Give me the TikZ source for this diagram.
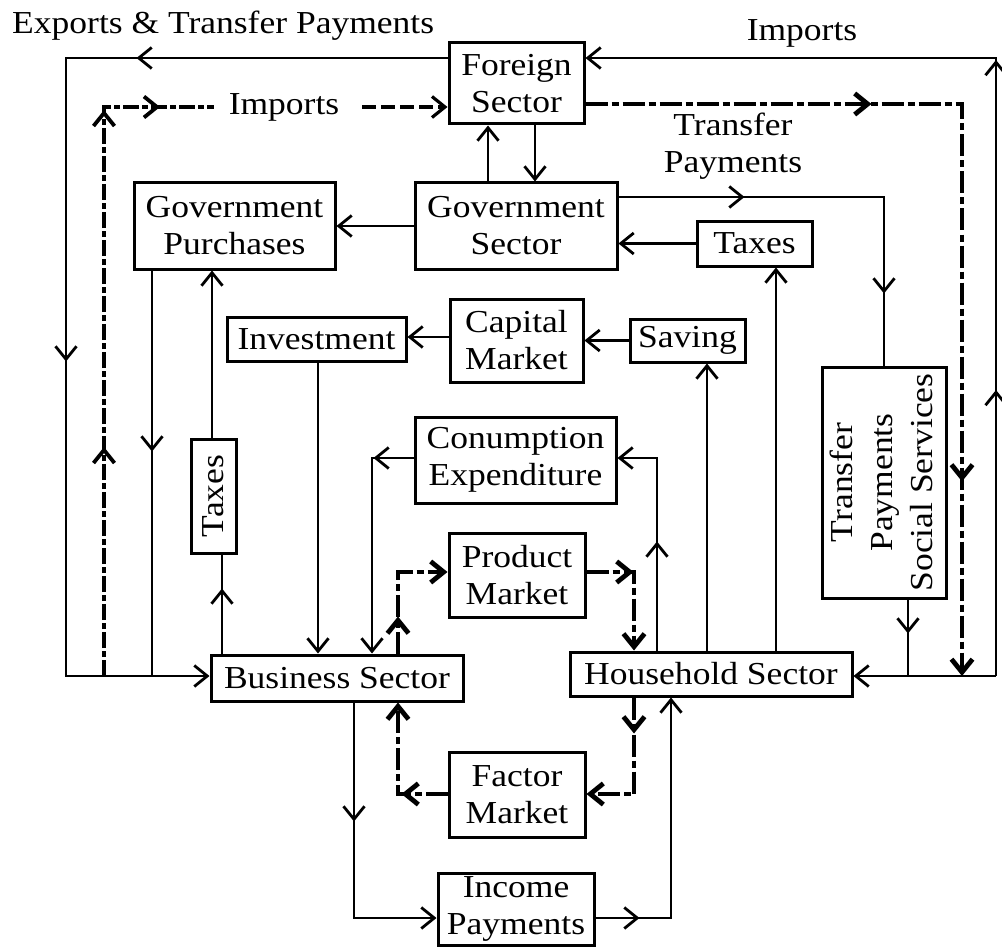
\documentclass[tikz,border=0pt]{standalone}
\usepackage{fontspec}
\usepackage{graphicx}
\setmainfont{Liberation Serif}[FakeStretch=1.11]
\usetikzlibrary{arrows.meta,decorations.markings}
\newcommand\boxfont{\fontsize{32}{37}\selectfont}

\tikzset{
  >={Straight Barb[length=13pt,width=21pt]},
  box/.style={draw, line width=3pt, inner sep=0pt, align=center, font=\boxfont},
  lbl/.style={font=\boxfont, inner sep=0pt, align=center},
  flow/.style={line width=2.8pt},
  money/.style={line width=4.8pt, dash pattern=on 22pt off 4pt on 7pt off 4pt},
  imp/.style={line width=3.8pt, dash pattern=on 16pt off 3pt on 6pt off 3pt},
  impdash/.style={line width=3.2pt, dash pattern=on 14pt off 5pt},
  tipat/.style={postaction={decorate,decoration={markings,mark=at position #1 with {\arrow{>}}}}},
}

\begin{document}
\begin{tikzpicture}[x=1pt,y=-1pt]
\useasboundingbox (0,0) rectangle (1002,947);

% sectors and markets
\node[box, minimum width=135pt, minimum height=81pt] (fs)  at (516.5,83.5) {Foreign\\Sector};
\node[box, minimum width=202pt, minimum height=86pt] (gs)  at (516,226)    {Government\\Sector};
\node[box, minimum width=201pt, minimum height=86pt] (gp)  at (234.5,226)  {Government\\Purchases};
\node[box, minimum width=115pt, minimum height=45pt] (tx1) at (754.5,243.5) {Taxes};
\node[box, minimum width=179pt, minimum height=44pt] (inv) at (316.5,339)  {Investment};
\node[box, minimum width=133pt, minimum height=83pt] (cm)  at (516.5,340.5) {Capital\\Market};
\node[box, minimum width=115pt, minimum height=43pt] (sav) at (687.5,340.5) {Saving};
\node[box, minimum width=201pt, minimum height=86pt] (ce)  at (515.5,460)  {Conumption\\Expenditure};
\node[box, minimum width=136pt, minimum height=84pt] (pm)  at (517,575)    {Product\\Market};
\node[box, minimum width=252pt, minimum height=46pt] (bs)  at (337,678)    {Business Sector};
\node[box, minimum width=282pt, minimum height=44pt] (hs)  at (711,674)    {Household Sector};
\node[box, minimum width=136pt, minimum height=85pt] (fm)  at (517,795)    {Factor\\Market};
\node[box, minimum width=156pt, minimum height=72pt] (ip)  at (516,909)    {Income\\Payments};
\node[box, minimum width=45pt, minimum height=114pt] (tx2) at (213.5,496)  {\rotatebox{90}{Taxes}};
\node[box, minimum width=124pt, minimum height=231pt] (tps) at (884,482.5)
  {\rotatebox{90}{\fontsize{32}{40}\selectfont\begin{tabular}{@{}c@{}}Transfer\\Payments\\Social Services\end{tabular}}};

% free labels
\node[lbl, anchor=west] (exL) at (12,26) {Exports \& Transfer Payments};
\node[lbl] (imR) at (802,33) {Imports};
\node[lbl] (imL) at (284,107) {Imports};
\node[lbl] (tpL) at (733,146) {Transfer\\Payments};

% bend points
\coordinate (exTop) at (66,58);
\coordinate (exBot) at (66,676);
\coordinate (gpBot) at (152,676);
\coordinate (imBot) at (104,676);
\coordinate (imTop) at (104,107);
\coordinate (imEnd) at (214,107);
\coordinate (imRes) at (362,107);
\coordinate (rBot) at (996,676);
\coordinate (rTop) at (996,58);
\coordinate (ddC) at (962,104);
\coordinate (tpC) at (884,197);
\coordinate (tpB) at (908,676);
\coordinate (xTx) at (776,0);
\coordinate (xSv) at (707,0);
\coordinate (yCI) at (0,337);
\coordinate (xIn) at (318,0);
\coordinate (ceC) at (657,458);
\coordinate (cbC) at (372,458);
\coordinate (bpC) at (398,572);
\coordinate (phC) at (634,572);
\coordinate (hfC) at (634,794);
\coordinate (fbC) at (398,794);
\coordinate (biC) at (354,918);
\coordinate (ihC) at (671,918);
\coordinate (xGF) at (488,0);
\coordinate (xFG) at (535,0);
\coordinate (xBT) at (222,0);
\coordinate (xTG) at (212,0);

% exports and transfer payments to the business sector
\draw[flow, ->, tipat=311pt, tipat=685pt] (fs.west |- exTop) -- (exTop) -- (exBot) -- (bs.west |- exBot);
\draw[flow, tipat=181pt] (gp.south -| gpBot) -- (gpBot);

% imports from the business sector
\draw[imp, tipat=229pt, tipat=566pt, tipat=625pt] (imBot) -- (imTop) -- (imEnd);
\draw[impdash, ->] (imRes) -- (fs.west |- imRes);

% imports from the household sector
\draw[flow, ->, tipat=286pt, tipat=616pt] (rBot) -- (rTop) -- (fs.east |- rTop);
\draw[flow, ->] (rBot) -- (hs.east |- rBot);

% foreign payments to households
\draw[money, ->, tipat=286pt, tipat=754pt] (fs.east |- ddC) -- (ddC) -- (ddC |- rBot);

% government transfers
\draw[flow, tipat=126pt, tipat=362pt] (gs.east |- tpC) -- (tpC) -- (tps.north);
\draw[flow, tipat=34pt] (tps.south -| tpB) -- (tpB);

% taxes, saving, investment
\draw[flow, ->] (tx1.west) -- (gs.east |- tx1.west);
\draw[flow, ->] (hs.north -| xTx) -- (tx1.south -| xTx);
\draw[flow, ->] (hs.north -| xSv) -- (sav.south -| xSv);
\draw[flow, ->] (sav.west) -- (cm.east |- sav.west);
\draw[flow, ->] (cm.west |- yCI) -- (inv.east |- yCI);
\draw[flow, ->] (inv.south -| xIn) -- (bs.north -| xIn);

% consumption expenditure
\draw[flow, ->, tipat=109pt] (hs.north -| ceC) -- (ceC) -- (ce.east |- ceC);
\draw[flow, ->, tipat=40pt] (ce.west |- cbC) -- (cbC) -- (bs.north -| cbC);

% product and factor markets
\draw[money, ->, tipat=37pt] (bs.north -| bpC) -- (bpC) -- (pm.west |- bpC);
\draw[money, ->, tipat=47pt] (pm.east |- phC) -- (phC) -- (hs.north -| phC);
\draw[money, ->, tipat=36pt] (hs.south -| hfC) -- (hfC) -- (fm.east |- hfC);
\draw[money, ->, tipat=46pt] (fm.west |- fbC) -- (fbC) -- (bs.south -| fbC);

% income payments
\draw[flow, ->, tipat=119pt] (bs.south -| biC) -- (biC) -- (ip.west |- biC);
\draw[flow, ->, tipat=44pt] (ip.east |- ihC) -- (ihC) -- (hs.south -| ihC);

% government and foreign sector
\draw[flow, ->] (gs.north -| xGF) -- (fs.south -| xGF);
\draw[flow, ->] (fs.south -| xFG) -- (gs.north -| xFG);
\draw[flow, ->] (gs.west) -- (gp.east);

% business taxes
\draw[flow, tipat=65pt] (bs.north -| xBT) -- (tx2.south -| xBT);
\draw[flow, ->] (tx2.north -| xTG) -- (gp.south -| xTG);
\end{tikzpicture}
\end{document}
